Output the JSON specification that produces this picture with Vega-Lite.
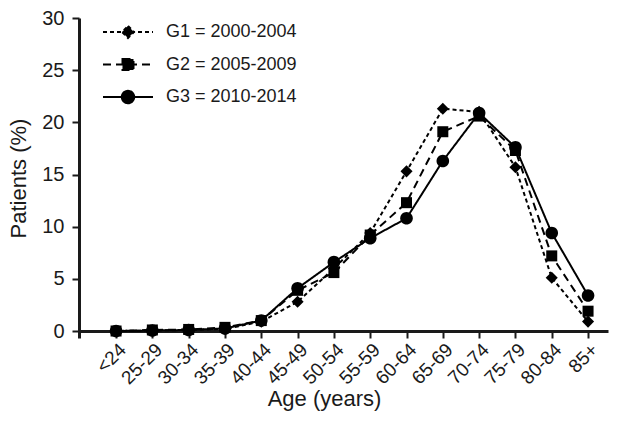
{
  "$schema": "https://vega.github.io/schema/vega-lite/v6.json",
  "width": 529,
  "height": 320,
  "autosize": "none",
  "padding": {"left": 79, "top": 18, "right": 12, "bottom": 94},
  "background": "white",
  "config": {
    "view": {"stroke": null},
    "font": "Liberation Sans",
    "axis": {"grid": false, "domainColor": "#1a1a1a", "tickColor": "#1a1a1a", "labelColor": "#1a1a1a", "titleColor": "#1a1a1a", "titleFontWeight": "normal"}
  },
  "data": {
    "values": [
      {"age": "<24", "group": "G1 = 2000-2004", "pct": 0.0},
      {"age": "25-29", "group": "G1 = 2000-2004", "pct": 0.05},
      {"age": "30-34", "group": "G1 = 2000-2004", "pct": 0.1},
      {"age": "35-39", "group": "G1 = 2000-2004", "pct": 0.2},
      {"age": "40-44", "group": "G1 = 2000-2004", "pct": 0.9},
      {"age": "45-49", "group": "G1 = 2000-2004", "pct": 2.8},
      {"age": "50-54", "group": "G1 = 2000-2004", "pct": 6.0},
      {"age": "55-59", "group": "G1 = 2000-2004", "pct": 9.4},
      {"age": "60-64", "group": "G1 = 2000-2004", "pct": 15.3},
      {"age": "65-69", "group": "G1 = 2000-2004", "pct": 21.3},
      {"age": "70-74", "group": "G1 = 2000-2004", "pct": 21.0},
      {"age": "75-79", "group": "G1 = 2000-2004", "pct": 15.7},
      {"age": "80-84", "group": "G1 = 2000-2004", "pct": 5.1},
      {"age": "85+", "group": "G1 = 2000-2004", "pct": 0.9},
      {"age": "<24", "group": "G2 = 2005-2009", "pct": 0.0},
      {"age": "25-29", "group": "G2 = 2005-2009", "pct": 0.1},
      {"age": "30-34", "group": "G2 = 2005-2009", "pct": 0.15},
      {"age": "35-39", "group": "G2 = 2005-2009", "pct": 0.35},
      {"age": "40-44", "group": "G2 = 2005-2009", "pct": 1.0},
      {"age": "45-49", "group": "G2 = 2005-2009", "pct": 3.9},
      {"age": "50-54", "group": "G2 = 2005-2009", "pct": 5.6},
      {"age": "55-59", "group": "G2 = 2005-2009", "pct": 9.2},
      {"age": "60-64", "group": "G2 = 2005-2009", "pct": 12.3},
      {"age": "65-69", "group": "G2 = 2005-2009", "pct": 19.1},
      {"age": "70-74", "group": "G2 = 2005-2009", "pct": 20.6},
      {"age": "75-79", "group": "G2 = 2005-2009", "pct": 17.3},
      {"age": "80-84", "group": "G2 = 2005-2009", "pct": 7.2},
      {"age": "85+", "group": "G2 = 2005-2009", "pct": 1.9},
      {"age": "<24", "group": "G3 = 2010-2014", "pct": 0.0},
      {"age": "25-29", "group": "G3 = 2010-2014", "pct": 0.05},
      {"age": "30-34", "group": "G3 = 2010-2014", "pct": 0.1},
      {"age": "35-39", "group": "G3 = 2010-2014", "pct": 0.25},
      {"age": "40-44", "group": "G3 = 2010-2014", "pct": 1.0},
      {"age": "45-49", "group": "G3 = 2010-2014", "pct": 4.1},
      {"age": "50-54", "group": "G3 = 2010-2014", "pct": 6.6},
      {"age": "55-59", "group": "G3 = 2010-2014", "pct": 8.9},
      {"age": "60-64", "group": "G3 = 2010-2014", "pct": 10.8},
      {"age": "65-69", "group": "G3 = 2010-2014", "pct": 16.3},
      {"age": "70-74", "group": "G3 = 2010-2014", "pct": 20.9},
      {"age": "75-79", "group": "G3 = 2010-2014", "pct": 17.6},
      {"age": "80-84", "group": "G3 = 2010-2014", "pct": 9.4},
      {"age": "85+", "group": "G3 = 2010-2014", "pct": 3.4}
    ]
  },
  "encoding": {
    "x": {
      "field": "age", "type": "ordinal", "sort": null,
      "scale": {"type": "point", "padding": 0.785, "align": 0.65},
      "axis": {
        "title": "Age (years)", "titleFontSize": 22, "titlePadding": 1, "titleX": 245,
        "labelAngle": -45, "labelFontSize": 19, "labelPadding": 2,
        "tickSize": 7, "tickWidth": 2, "domainWidth": 3, "offset": -7
      }
    },
    "y": {
      "field": "pct", "type": "quantitative",
      "scale": {"domain": [-0.67, 30], "nice": false, "zero": false},
      "axis": {
        "title": "Patients (%)", "titleFontSize": 22, "titlePadding": 11,
        "values": [0, 5, 10, 15, 20, 25, 30], "labelFontSize": 20, "labelPadding": 8,
        "tickSize": 7, "tickWidth": 2, "domainWidth": 3
      }
    }
  },
  "resolve": {"legend": {"strokeDash": "independent", "shape": "independent"}},
  "layer": [
    {
      "mark": {"type": "line", "color": "black", "strokeWidth": 2},
      "encoding": {
        "strokeDash": {
          "field": "group", "type": "nominal",
          "scale": {"domain": ["G1 = 2000-2004", "G2 = 2005-2009", "G3 = 2010-2014"], "range": [[4, 3], [8, 5], [1, 0]]},
          "legend": {
            "title": null, "orient": "none", "legendX": 38, "legendY": 3,
            "symbolSize": 400, "rowPadding": 11.5, "labelOffset": 27,
            "labelFontSize": 18, "labelColor": "#1a1a1a", "labelFont": "Liberation Sans",
            "symbolStrokeWidth": 2, "symbolFillColor": "black", "symbolStrokeColor": "black",
            "encode": {
              "symbols": {
                "update": {
                  "shape": {"signal": "datum.value === 'G1 = 2000-2004' ? 'M-2.5,0H2.5M0,-0.6L0.6,0L0,0.6L-0.6,0Z' : datum.value === 'G2 = 2005-2009' ? 'M-2.5,0H2.5M-0.55,-0.55H0.55V0.55H-0.55Z' : 'M-2.5,0H2.5M0.62,0A0.62,0.62,0,1,1,-0.62,0A0.62,0.62,0,1,1,0.62,0Z'"},
                  "fill": {"value": "black"},
                  "stroke": {"value": "black"},
                  "strokeWidth": {"value": 2}
                }
              }
            }
          }
        }
      }
    },
    {
      "mark": {"type": "point", "filled": true, "color": "black", "opacity": 1, "size": 110},
      "encoding": {
        "shape": {
          "field": "group", "type": "nominal",
          "scale": {"domain": ["G1 = 2000-2004", "G2 = 2005-2009", "G3 = 2010-2014"], "range": ["M0,-1.15L1.15,0L0,1.15L-1.15,0Z", "M-1.05,-1.05H1.05V1.05H-1.05Z", "M1.2,0A1.2,1.2,0,1,1,-1.2,0A1.2,1.2,0,1,1,1.2,0Z"]},
          "legend": null
        }
      }
    }
  ]
}
